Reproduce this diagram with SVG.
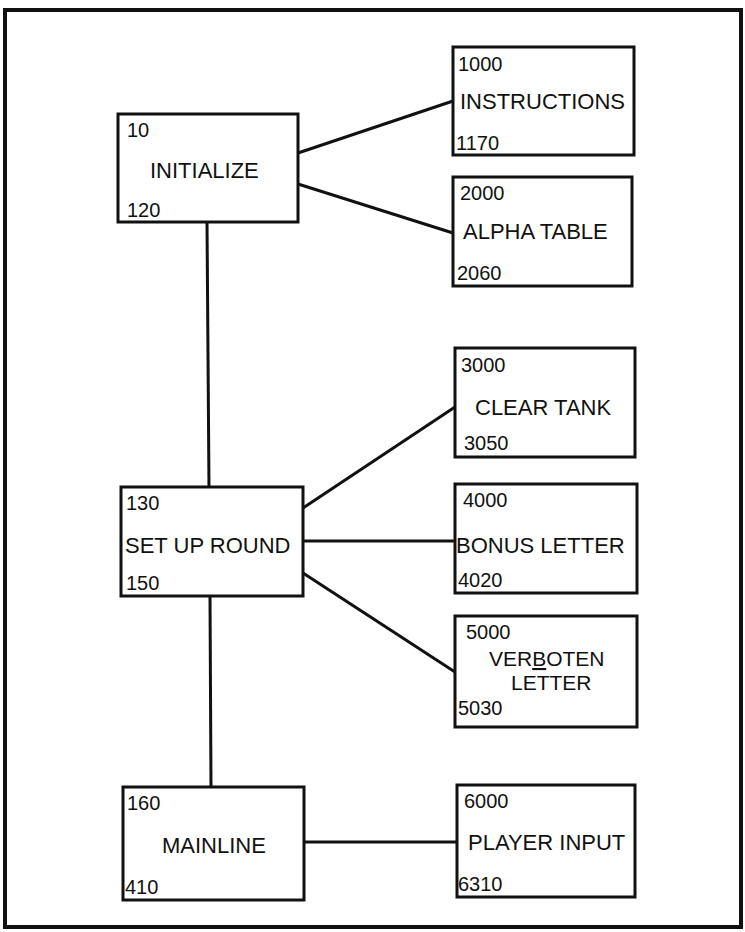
<svg xmlns="http://www.w3.org/2000/svg" width="745" height="932" viewBox="0 0 745 932">
<style>
.box{fill:#fff;stroke:#111;stroke-width:3}
.ln{stroke:#111;stroke-width:3;fill:none}
.num{font-family:"Liberation Sans",Arial,sans-serif;font-size:20px;fill:#111}
.lbl{font-family:"Liberation Sans",Arial,sans-serif;font-size:22px;fill:#111}
.lbl2{font-family:"Liberation Sans",Arial,sans-serif;font-size:21px;fill:#111}
</style>
<rect x="0" y="0" width="745" height="932" fill="#fff"/>
<rect x="5" y="10" width="736" height="917" fill="none" stroke="#111" stroke-width="4"/>
<g id="connectors">
<line class="ln" x1="298" y1="153" x2="453" y2="101"/>
<line class="ln" x1="298" y1="184" x2="453" y2="233"/>
<line class="ln" x1="207" y1="222" x2="209" y2="487"/>
<line class="ln" x1="303" y1="508" x2="455" y2="407"/>
<line class="ln" x1="303" y1="541" x2="455" y2="541"/>
<line class="ln" x1="303" y1="573" x2="455" y2="672"/>
<line class="ln" x1="210" y1="596" x2="211" y2="787"/>
<line class="ln" x1="304" y1="842" x2="457" y2="842"/>
</g>
<g id="initialize">
<rect class="box" x="118" y="114" width="180" height="108"/>
<text class="num" x="127" y="137">10</text>
<text class="lbl" x="150" y="178">INITIALIZE</text>
<text class="num" x="127" y="217">120</text>
</g>
<g id="instructions">
<rect class="box" x="453" y="47" width="181" height="108"/>
<text class="num" x="458" y="71">1000</text>
<text class="lbl" x="460" y="109">INSTRUCTIONS</text>
<text class="num" x="456" y="150">1170</text>
</g>
<g id="alpha-table">
<rect class="box" x="453" y="177" width="179" height="109"/>
<text class="num" x="460" y="200">2000</text>
<text class="lbl" x="463" y="239">ALPHA TABLE</text>
<text class="num" x="457" y="280">2060</text>
</g>
<g id="set-up-round">
<rect class="box" x="121" y="487" width="182" height="109"/>
<text class="num" x="126" y="510">130</text>
<text class="lbl" x="125" y="553">SET UP ROUND</text>
<text class="num" x="126" y="590">150</text>
</g>
<g id="clear-tank">
<rect class="box" x="455" y="348" width="180" height="109"/>
<text class="num" x="461" y="372">3000</text>
<text class="lbl" x="475" y="415">CLEAR TANK</text>
<text class="num" x="464" y="450">3050</text>
</g>
<g id="bonus-letter">
<rect class="box" x="455" y="484" width="182" height="109"/>
<text class="num" x="463" y="507">4000</text>
<text class="lbl" x="456" y="553">BONUS LETTER</text>
<text class="num" x="458" y="587">4020</text>
</g>
<g id="verboten-letter">
<rect class="box" x="455" y="616" width="182" height="111"/>
<text class="num" x="466" y="639">5000</text>
<text class="lbl2" x="489" y="666">VER<tspan text-decoration="underline">B</tspan>OTEN</text>
<text class="lbl2" x="511" y="690">LETTER</text>
<text class="num" x="458" y="715">5030</text>
</g>
<g id="mainline">
<rect class="box" x="123" y="787" width="181" height="113"/>
<text class="num" x="127" y="810">160</text>
<text class="lbl" x="162" y="853">MAINLINE</text>
<text class="num" x="125" y="894">410</text>
</g>
<g id="player-input">
<rect class="box" x="457" y="785" width="178" height="112"/>
<text class="num" x="464" y="808">6000</text>
<text class="lbl" x="468" y="850">PLAYER INPUT</text>
<text class="num" x="458" y="891">6310</text>
</g>
</svg>
